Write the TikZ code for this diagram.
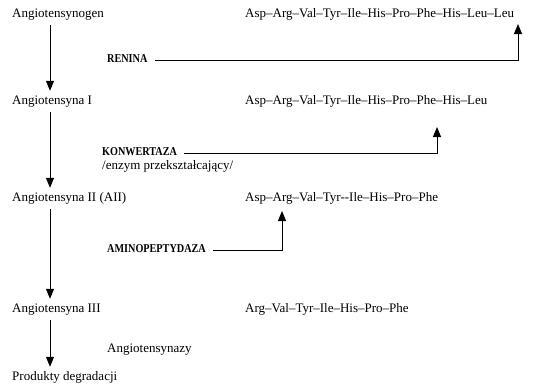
\documentclass[tikz,border=0pt]{standalone}
\usepackage{fontspec}
\setmainfont{Liberation Serif}
\newfontfamily\enzfont{Liberation Serif}[FakeStretch=0.85]
\usetikzlibrary{arrows.meta}

\begin{document}
\begin{tikzpicture}[x=1pt, y=-1pt, >={Triangle[length=10pt,width=8pt]},
  lbl/.style={anchor=west, inner sep=1pt, text height=9pt, text depth=3pt, font=\fontsize{13}{15}\selectfont},
  seq/.style={lbl},
  enz/.style={lbl, font=\enzfont\fontsize{12}{14}\selectfont\bfseries},
  flow/.style={->, line width=1pt, shorten <=4pt, shorten >=3pt},
  cut/.style={->, line width=1pt}]
  \useasboundingbox (0,0) rectangle (547,389);
  \coordinate (ax) at (50,0);
  % left column
  \node[lbl] (ag) at (11,14) {Angiotensynogen};
  \node[lbl] (a1) at (11,101) {Angiotensyna I};
  \node[lbl] (a2) at (11,198) {Angiotensyna II (AII)};
  \node[lbl] (a3) at (11,309) {Angiotensyna III};
  \node[lbl] (pd) at (11,377) {Produkty degradacji};
  \draw[flow] (ag.south -| ax) -- (a1.north -| ax);
  \draw[flow] (a1.south -| ax) -- (a2.north -| ax);
  \draw[flow] (a2.south -| ax) -- (a3.north -| ax);
  \draw[flow] (a3.south -| ax) -- (pd.north -| ax);
  % sequences
  \node[seq] (s1) at (244,14) {Asp--Arg--Val--Tyr--Ile--His--Pro--Phe--His--Leu--Leu};
  \node[seq] (s2) at (244,101) {Asp--Arg--Val--Tyr--Ile--His--Pro--Phe--His--Leu};
  \node[seq] (s3) at (244,198) {Asp--Arg--Val--Tyr-{}-Ile--His--Pro--Phe};
  \node[seq] (s4) at (244,309) {Arg--Val--Tyr--Ile--His--Pro--Phe};
  % enzymes
  \node[enz] (ren) at (106,59) {RENINA};
  \node[enz] (kon) at (101,152) {KONWERTAZA};
  \node[lbl] (kon2) at (101,166) {/enzym przekształcający/};
  \node[enz] (amp) at (106,249) {AMINOPEPTYDAZA};
  \node[lbl] (atz) at (106,349) {Angiotensynazy};
  \coordinate (c1) at (518,24);
  \coordinate (c2) at (437,127);
  \coordinate (c3) at (282,211);
  \draw[cut] ([xshift=6pt,yshift=-1pt]ren.east) -| (c1);
  \draw[cut] ([xshift=6pt,yshift=-1pt]kon.east) -| (c2);
  \draw[cut] ([xshift=6pt,yshift=-1pt]amp.east) -| (c3);
\end{tikzpicture}
\end{document}
